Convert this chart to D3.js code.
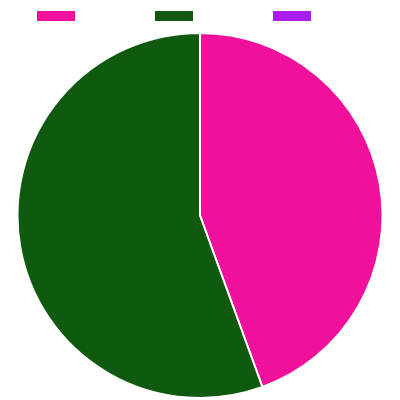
<!DOCTYPE html>
<html>
<head>
<meta charset="utf-8">
<script src="https://cdn.jsdelivr.net/npm/d3@7"></script>
<style>
  html, body { margin: 0; padding: 0; background: #fff; }
</style>
</head>
<body>
<div id="chart"></div>
<script>
const WIDTH = 400, HEIGHT = 400;

// data
const categories = ["A", "B", "C"];
const values = [4, 5, 0];
const colors = ["#f0109b", "#105a10", "#a91ef0"];

const svg = d3.select("#chart").append("svg")
  .attr("width", WIDTH).attr("height", HEIGHT);

// legend (boxes only)
const legendX = d3.scalePoint().domain(categories).range([37, 273]);
svg.append("g").selectAll("rect").data(categories).join("rect")
  .attr("x", d => legendX(d))
  .attr("y", 11)
  .attr("width", 38)
  .attr("height", 10)
  .attr("fill", (d, i) => colors[i]);

// pie
const cx = 200, cy = 215.5, R = 182.5;
const pie = d3.pie().sort(null).value(d => d)(values);
const arc = d3.arc().innerRadius(0).outerRadius(R);

const g = svg.append("g").attr("transform", `translate(${cx},${cy})`);
g.selectAll("path").data(pie).join("path")
  .attr("d", arc)
  .attr("fill", (d, i) => colors[i])
  .attr("stroke", "#fff")
  .attr("stroke-width", 2)
  .attr("stroke-linejoin", "round");
</script>
</body>
</html>
